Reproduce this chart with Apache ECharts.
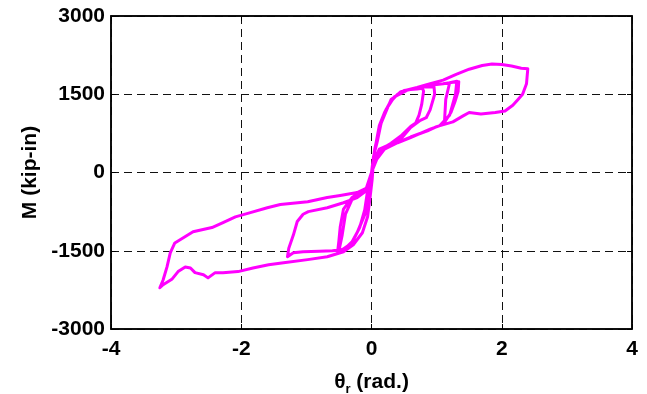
<!DOCTYPE html>
<html lang="en">
<head>
  <meta charset="UTF-8">
  <title>M - theta_r hysteresis</title>
  <script src="https://cdn.jsdelivr.net/npm/echarts@6/dist/echarts.min.js"></script>
  <style>
    html, body { margin: 0; padding: 0; background: #fff; }
  </style>
</head>
<body>
  <div id="main" style="width: 647px;height:394px;"></div>
  <script>
    // axis ticks
    var xTicks = [-4, -2, 0, 2, 4];
    var yTicks = [-3000, -1500, 0, 1500, 3000];

    // [theta_r (rad.), M (kip-in)], in loading order
    var loopSmallPos = [[0, 0], [0.03, 300], [0.09, 600], [0.15, 960], [0.22, 1200], [0.29, 1350], [0.4, 1500],
      [0.5, 1570], [0.6, 1590], [0.7, 1600], [0.78, 1615], [0.8, 1560], [0.77, 1300], [0.73, 1100], [0.68, 950],
      [0.6, 880], [0.45, 700], [0.3, 560], [0.14, 440], [0.06, 250], [0, 0]];
    var loopSmallNeg = [[-0.05, -300], [-0.1, -700], [-0.18, -1050], [-0.3, -1350], [-0.45, -1480], [-0.52, -1520],
      [-0.5, -1300], [-0.48, -1040], [-0.43, -700], [-0.3, -480], [-0.2, -400], [-0.08, -300], [0, 0]];
    var loopMidPos = [[0.05, 450], [0.12, 850], [0.22, 1200], [0.35, 1450], [0.55, 1580], [0.8, 1640], [0.96, 1640],
      [0.97, 1500], [0.9, 1200], [0.84, 1050], [0.75, 1000], [0.6, 860], [0.45, 640], [0.3, 520], [0.14, 420],
      [0.04, 200], [0, 0]];
    var loopMidNeg = [[-0.06, -350], [-0.12, -850], [-0.22, -1150], [-0.33, -1400], [-0.45, -1480], [-0.6, -1500],
      [-0.8, -1510], [-1.05, -1520], [-1.2, -1540], [-1.29, -1615], [-1.27, -1450], [-1.2, -1200], [-1.14, -940],
      [-1.05, -800], [-0.97, -750], [-0.68, -675], [-0.43, -580], [-0.22, -480], [-0.06, -330], [0, -100]];
    var loopLargePos = [[0.03, 200], [0.06, 500], [0.12, 900], [0.2, 1150], [0.3, 1380], [0.45, 1550], [0.7, 1620],
      [0.9, 1670], [1.1, 1700], [1.25, 1730], [1.34, 1740], [1.33, 1550], [1.28, 1350], [1.22, 1150], [1.12, 960],
      [1.14, 1400], [1.2, 1720], [1.31, 1750], [1.29, 1500], [1.2, 1100], [1.05, 900], [0.9, 830], [0.6, 670],
      [0.4, 570], [0.2, 450], [0.08, 250], [0, 0]];
    var loopNeg2 = [[-0.04, -400], [-0.1, -800], [-0.2, -1100], [-0.3, -1330], [-0.4, -1450], [-0.5, -1500],
      [-0.45, -1200], [-0.4, -800], [-0.3, -520], [-0.15, -400], [-0.04, -250], [0, 0]];
    var cycleBigPos = [[0.05, 450], [0.15, 950], [0.3, 1400], [0.5, 1570], [0.7, 1630], [0.86, 1690], [1.1, 1770],
      [1.3, 1880], [1.5, 1980], [1.7, 2050], [1.85, 2080], [2.0, 2070], [2.15, 2040], [2.3, 2000], [2.4, 1990],
      [2.38, 1700], [2.32, 1500], [2.25, 1400], [2.17, 1290], [2.05, 1180], [1.9, 1150], [1.68, 1120],
      [1.5, 1150], [1.4, 1080], [1.25, 970], [1.0, 880], [0.86, 800], [0.6, 680], [0.45, 600], [0.25, 520],
      [0.12, 450], [0.05, 250], [0, 0]];
    var cycleBigNeg = [[-0.06, -290], [-0.22, -385], [-0.48, -440], [-0.68, -480], [-0.98, -560], [-1.4, -615],
      [-1.6, -675], [-1.86, -770], [-2.09, -850], [-2.28, -960], [-2.45, -1055], [-2.74, -1135], [-3.02, -1350],
      [-3.09, -1540], [-3.14, -1810], [-3.2, -2060], [-3.25, -2210], [-3.2, -2150], [-3.06, -2040], [-2.97, -1900],
      [-2.86, -1810], [-2.78, -1830], [-2.71, -1920], [-2.58, -1960], [-2.51, -2020], [-2.4, -1920], [-2.28, -1920],
      [-2.05, -1900], [-1.82, -1830], [-1.58, -1770], [-1.35, -1730], [-0.98, -1670], [-0.68, -1615],
      [-0.43, -1520], [-0.28, -1385], [-0.14, -1155], [-0.06, -850], [-0.02, -460], [0.01, -135], [0.03, 200]];

    var loadPath = [].concat(loopSmallPos, loopSmallNeg, loopMidPos, loopMidNeg, loopLargePos, loopNeg2,
      cycleBigPos, cycleBigNeg);

    var fontFam = 'Liberation Sans, Arial, sans-serif';
    var labelStyle = { color: '#000', fontSize: 21, fontWeight: 'bold', fontFamily: fontFam };
    var gridDash = { show: true, lineStyle: { color: '#111', width: 1, type: [8, 5] } };
    var plainNum = function (v) { return String(v); };

    var myChart = echarts.init(document.getElementById('main'));

    var option = {
      animation: false,
      grid: {
        left: 111, right: 15, top: 16, bottom: 65, outerBoundsMode: 'none',
        show: true, borderColor: '#000', borderWidth: 1.5
      },
      xAxis: [
        {
          type: 'value', min: xTicks[0], max: xTicks[xTicks.length - 1], interval: 2,
          axisLine: { show: true, onZero: false, lineStyle: { color: '#000', width: 1.5 } },
          axisTick: { show: true, inside: true, length: 5, lineStyle: { color: '#000' } },
          axisLabel: Object.assign({ margin: 10, formatter: plainNum }, labelStyle),
          splitLine: gridDash,
          name: '{t|θ}{s|r}{t| (rad.)}',
          nameLocation: 'middle', nameGap: 40,
          nameTextStyle: {
            rich: {
              t: labelStyle,
              s: { color: '#000', fontSize: 13, fontWeight: 'bold', fontFamily: fontFam, verticalAlign: 'bottom', padding: [14, 0, 0, 0] }
            }
          }
        },
        {
          type: 'value', position: 'top', min: xTicks[0], max: xTicks[xTicks.length - 1], interval: 2,
          axisLine: { show: true, onZero: false, lineStyle: { color: '#000', width: 1.5 } },
          axisTick: { show: true, inside: true, length: 5, lineStyle: { color: '#000' } },
          axisLabel: { show: false }, splitLine: { show: false }
        }
      ],
      yAxis: [
        {
          type: 'value', min: yTicks[0], max: yTicks[yTicks.length - 1], interval: 1500,
          axisLine: { show: true, onZero: false, lineStyle: { color: '#000', width: 1.5 } },
          axisTick: { show: true, inside: true, length: 5, lineStyle: { color: '#000' } },
          axisLabel: Object.assign({ margin: 6, formatter: plainNum }, labelStyle),
          splitLine: gridDash,
          name: 'M (kip-in)', nameLocation: 'middle', nameGap: 70,
          nameTextStyle: labelStyle
        },
        {
          type: 'value', position: 'right', min: yTicks[0], max: yTicks[yTicks.length - 1], interval: 1500,
          axisLine: { show: true, onZero: false, lineStyle: { color: '#000', width: 1.5 } },
          axisTick: { show: true, inside: true, length: 5, lineStyle: { color: '#000' } },
          axisLabel: { show: false }, splitLine: { show: false }
        }
      ],
      series: [
        {
          name: 'M', type: 'line', data: loadPath,
          showSymbol: false, smooth: false,
          lineStyle: { color: '#ff00ff', width: 3, join: 'round' },
          itemStyle: { color: '#ff00ff' }
        }
      ]
    };

    myChart.setOption(option);
  </script>
</body>
</html>
